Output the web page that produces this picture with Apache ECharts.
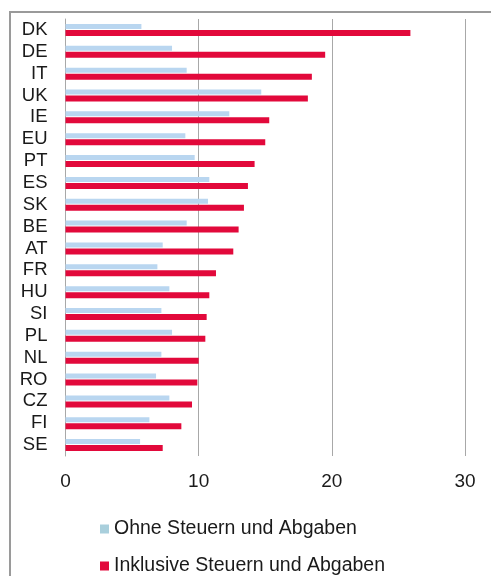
<!DOCTYPE html>
<html>
<head>
<meta charset="utf-8">
<script src="https://cdn.jsdelivr.net/npm/echarts@6/dist/echarts.min.js"></script>
<style>
  html, body { margin: 0; padding: 0; background: #fff; }
  #chart { width: 491px; height: 576px; }
</style>
</head>
<body>
<div id="chart"></div>
<script>
// Strompreise je Land, in Cent pro kWh
const countries = ['DK','DE','IT','UK','IE','EU','PT','ES','SK','BE','AT','FR','HU','SI','PL','NL','RO','CZ','FI','SE'];
const ohneSteuern = [5.7, 8.0, 9.1, 14.7, 12.3, 9.0, 9.7, 10.8, 10.7, 9.1, 7.3, 6.9, 7.8, 7.2, 8.0, 7.2, 6.8, 7.8, 6.3, 5.6];
const inklSteuern = [25.9, 19.5, 18.5, 18.2, 15.3, 15.0, 14.2, 13.7, 13.4, 13.0, 12.6, 11.3, 10.8, 10.6, 10.5, 10.0, 9.9, 9.5, 8.7, 7.3];
const xTicks = [0, 10, 20, 30];
const seriesNames = ['Ohne Steuern und Abgaben', 'Inklusive Steuern und Abgaben'];
const seriesColors = ['#b9d6f0', '#e2093b'];
const legendColors = ['#a9cfdc', '#e2093b'];

const FONT = '"Liberation Sans", Arial, sans-serif';
const chart = echarts.init(document.getElementById('chart'), null, { renderer: 'canvas' });

// one legend block per row, stacked under the plot
const legendRow = (name, top) => ({
  orient: 'horizontal',
  left: 100,
  top: top,
  padding: 0,
  itemWidth: 9,
  itemHeight: 9,
  icon: 'rect',
  selectedMode: false,
  textStyle: { fontSize: 19.5, color: '#1a1a1a', fontFamily: FONT },
  data: [name]
});

chart.setOption({
  animation: false,
  backgroundColor: '#ffffff',
  textStyle: { fontFamily: FONT },
  graphic: [{
    type: 'rect',
    shape: { x: 10, y: 12, width: 500, height: 600 },
    style: { fill: 'none', stroke: '#9a9a9a', lineWidth: 2 },
    silent: true
  }],
  grid: { left: 65.5, right: 26, top: 19, bottom: 120, containLabel: false },
  xAxis: {
    type: 'value',
    min: xTicks[0],
    max: xTicks[xTicks.length - 1],
    interval: 10,
    axisLine: { show: false },
    axisTick: { show: false },
    splitLine: { show: true, lineStyle: { color: '#a8a8a8', width: 1 } },
    axisLabel: { color: '#1a1a1a', fontSize: 19, fontFamily: FONT, margin: 16.5 }
  },
  yAxis: {
    type: 'category',
    data: countries,
    inverse: true,
    axisLine: { show: true, lineStyle: { color: '#a8a8a8', width: 1 } },
    axisTick: { show: false },
    axisLabel: {
      color: '#1a1a1a', fontSize: 18.5, fontFamily: FONT, margin: 18, interval: 0,
      padding: [4, 0, 0, 0]
    }
  },
  legend: [
    Object.assign(legendRow(seriesNames[0], 519), { itemStyle: { color: legendColors[0] } }),
    legendRow(seriesNames[1], 556)
  ],
  series: [
    {
      name: seriesNames[0],
      type: 'bar',
      data: ohneSteuern,
      barWidth: 5,
      barGap: '20%',
      itemStyle: { color: seriesColors[0] }
    },
    {
      name: seriesNames[1],
      type: 'bar',
      data: inklSteuern,
      barWidth: 6,
      barGap: '20%',
      itemStyle: { color: seriesColors[1] }
    }
  ]
});
</script>
</body>
</html>
